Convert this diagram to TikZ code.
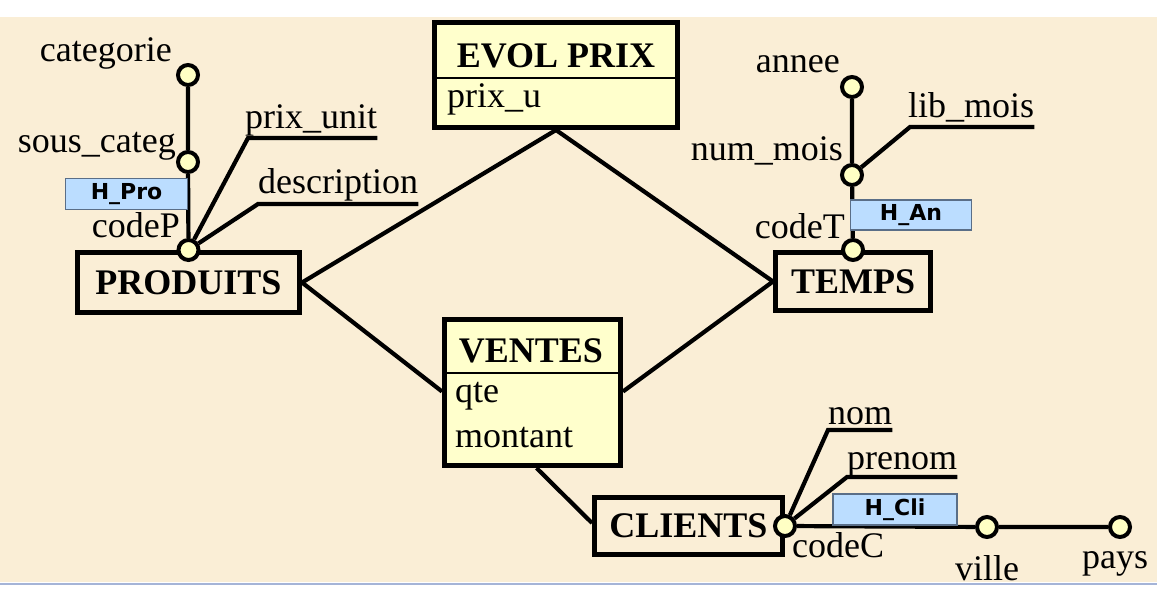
\documentclass[tikz,border=0pt]{standalone}
\usepackage{fontspec}
\setmainfont{Liberation Serif}
\newfontfamily\tagfont{DejaVu Sans}
\usetikzlibrary{positioning}

\definecolor{parchment}{RGB}{250,238,214}
\definecolor{factfill}{RGB}{255,255,204}
\definecolor{attrfill}{RGB}{255,255,196}
\definecolor{tagfill}{RGB}{187,221,255}
\definecolor{tagedge}{RGB}{90,110,135}
\definecolor{slideline}{RGB}{165,180,215}

\begin{document}
\begin{tikzpicture}[x=1pt, y=-1pt,
    lbl/.style={inner sep=0pt, font=\fontsize{36}{40}\selectfont},
    title/.style={inner sep=0pt, font=\bfseries\fontsize{36}{40}\selectfont},
    dimbox/.style={draw, line width=5pt, inner sep=0pt, font=\bfseries\fontsize{36}{40}\selectfont},
    factbox/.style={draw, line width=5pt, fill=factfill, inner sep=0pt},
    attr/.style={circle, draw, line width=4pt, fill=attrfill, minimum size=20pt, inner sep=0pt},
    tagbox/.style={draw=tagedge, line width=1.2pt, fill=tagfill, inner sep=0pt,
                   font=\tagfont\bfseries\fontsize{22}{26}\selectfont},
    link/.style={line width=4.2pt}]
    \useasboundingbox (0,0) rectangle (1157,589);
    % slide background
    \fill[white] (0,0) rectangle (1157,589);
    \fill[parchment] (0,17) rectangle (1157,582);
    \draw[line width=2pt, slideline] (0,583.5) -- (1157,583.5);

    % fact tables
    \node[factbox, minimum width=243pt, minimum height=105pt] (evol) at (556,75) {};
    \draw[line width=1.5pt] ([yshift=-58pt]evol.north west) -- ([yshift=-58pt]evol.north east);
    \node[title, anchor=base] (evolT) at (556,67) {EVOL PRIX};
    \node[lbl, anchor=base west] (prixu) at (447,107) {prix\_u};

    \node[factbox, minimum width=176pt, minimum height=146pt] (ventes) at (532.5,392.5) {};
    \draw[line width=1.5pt] ([yshift=-56pt]ventes.north west) -- ([yshift=-56pt]ventes.north east);
    \node[title, anchor=base] (ventesT) at (531,362) {VENTES};
    \node[lbl, anchor=base west] (qte) at (455,402) {qte};
    \node[lbl, anchor=base west] (montant) at (455,447) {montant};

    % dimensions
    \node[dimbox, minimum width=222pt, minimum height=60pt] (produits) at (188.5,282.5) {PRODUITS};
    \node[dimbox, minimum width=155pt, minimum height=58pt] (temps) at (853,281.5) {TEMPS};
    \node[dimbox, minimum width=188pt, minimum height=57pt] (clients) at (688.5,526) {CLIENTS};

    % star links
    \draw[link] (evol.south) -- (produits.east);
    \draw[link] (evol.south) -- (temps.west);
    \draw[link] (produits.east) -- ([yshift=1pt]ventes.west);
    \draw[link] ([yshift=1pt]ventes.east) -- (temps.west);
    \draw[link] ([xshift=4pt]ventes.south) -- ([yshift=3pt]clients.west);

    % PRODUITS hierarchy
    \node[attr] (codeP) at (produits.north) {};
    \node[attr] (souscat) at (188,162) {};
    \node[attr] (categ) at (188,75) {};
    \draw[link] (codeP) -- (souscat) -- (categ);
    \node[lbl, anchor=base east] (categT) at (172,61) {categorie};
    \node[lbl, anchor=base east] (souscatT) at (176,152) {sous\_categ};
    \node[lbl, anchor=base east] (codePT) at (180,237) {codeP};
    \coordinate (pu) at (248,138);
    \node[lbl, anchor=base west] (prixunit) at (245,128) {prix\_unit};
    \draw[link] (codeP) -- (pu) -- (pu -| prixunit.east);
    \coordinate (de) at (258,204);
    \node[lbl, anchor=base west] (descr) at (258,193) {description};
    \draw[link] (codeP) -- (de) -- (de -| descr.east);
    \node[tagbox, minimum width=122pt, minimum height=31pt] (hpro) at (126.5,194) {H\_Pro};

    % TEMPS hierarchy
    \node[attr] (codeT) at (temps.north) {};
    \node[attr] (nummois) at (852,175) {};
    \node[attr] (annee) at (852,87) {};
    \draw[link] (codeT) -- (nummois) -- (annee);
    \node[lbl, anchor=base east] (anneeT) at (840,72) {annee};
    \node[lbl, anchor=base east] (nummoisT) at (843,160) {num\_mois};
    \node[lbl, anchor=base east] (codeTT) at (845,238) {codeT};
    \coordinate (lm) at (910,127);
    \node[lbl, anchor=base west] (libmois) at (908,117) {lib\_mois};
    \draw[link] (nummois) -- (lm) -- (lm -| libmois.east);
    \node[tagbox, minimum width=121pt, minimum height=30pt] (han) at (911,215) {H\_An};

    % CLIENTS hierarchy
    \node[attr] (codeC) at (clients.east) {};
    \node[attr] (ville) at (987,527) {};
    \node[attr] (pays) at (1120,527) {};
    \draw[link] (codeC) -- (ville) -- (pays);
    \node[lbl, anchor=base west] (codeCT) at (792,557) {codeC};
    \node[lbl, anchor=base] (villeT) at (987,580) {ville};
    \node[lbl, anchor=base] (paysT) at (1115,568) {pays};
    \coordinate (nm) at (828,430);
    \node[lbl, anchor=base west] (nom) at (828,424) {nom};
    \draw[link] (codeC) -- (nm) -- (nm -| nom.east);
    \coordinate (pn) at (847,477);
    \node[lbl, anchor=base west] (prenom) at (847,469) {prenom};
    \draw[link] (codeC) -- (pn) -- (pn -| prenom.east);
    \node[tagbox, minimum width=124pt, minimum height=31pt] (hcli) at (895,509.5) {H\_Cli};
  \end{tikzpicture}
\end{document}
